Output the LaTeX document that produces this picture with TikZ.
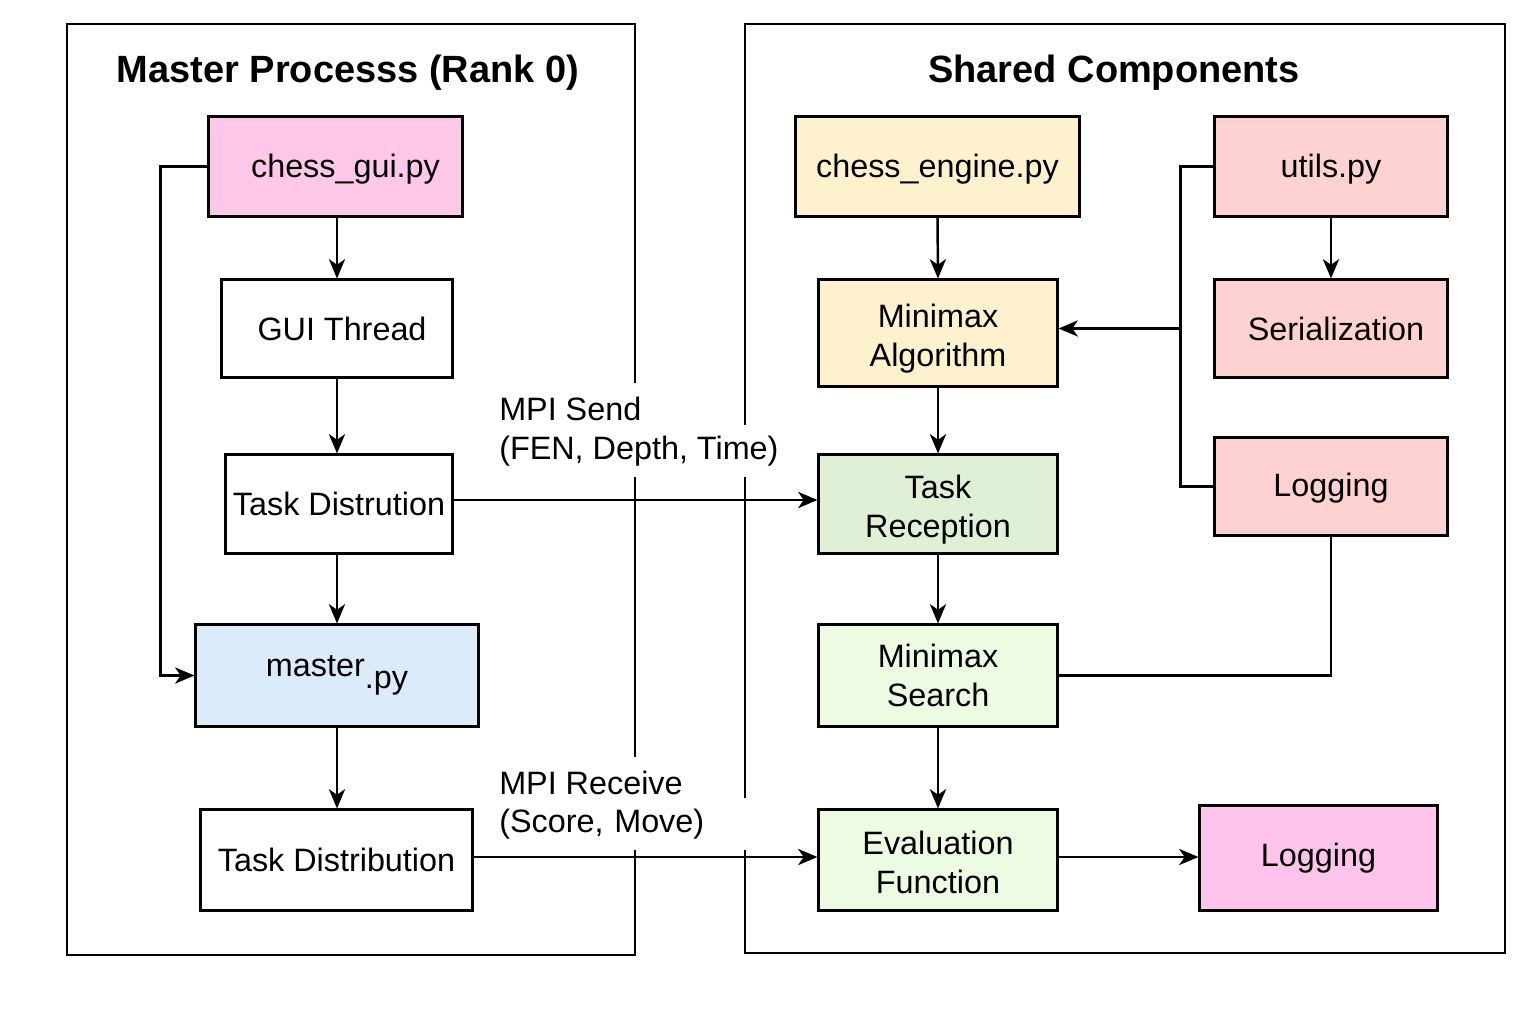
\documentclass[tikz,border=0pt]{standalone}
\usepackage{fontspec}
\setmainfont{Liberation Sans}
\usetikzlibrary{arrows.meta}
\definecolor{guipink}{RGB}{255,200,234}
\definecolor{logpink}{RGB}{255,196,236}
\definecolor{masterblue}{RGB}{220,235,250}
\definecolor{engyellow}{RGB}{253,242,205}
\definecolor{recgreen}{RGB}{224,240,214}
\definecolor{palegreen}{RGB}{237,251,227}
\definecolor{utilred}{RGB}{255,210,210}
\tikzset{
  box/.style={draw=black, line width=0.85pt, align=center, inner sep=2pt,
    font=\fontsize{9.2}{11.1}\selectfont},
  frame/.style={draw=black, line width=0.75pt},
  arr/.style={line width=0.7pt, -{Stealth[length=5.5pt,width=4.6pt,inset=1.6pt]}},
  conn/.style={line width=0.7pt},
  title/.style={font=\fontsize{10.8}{13}\selectfont\bfseries},
  mpi/.style={fill=white, anchor=west, inner xsep=3pt, inner ysep=0pt,
    minimum height=0.52cm, font=\fontsize{9.2}{11}\selectfont}
}
\begin{document}
\begin{tikzpicture}[x=0.01cm, y=-0.01cm]
\useasboundingbox[fill=white] (0,0) rectangle (1536,1024);
% frames
\draw[frame] (67,24) rectangle (635,955);
\draw[frame] (745,24) rectangle (1505,953);
\node[title] (t1) at (348,73) {Master Processs (Rank 0)};
\node[title] (t2) at (1114,73) {Shared Components};
% MPI labels
\node[mpi] (ms1) at (488,409) {MPI Send};
\node[mpi] (ms2) at (488,451) {(FEN, Depth, Time)};
\node[mpi] (mr1) at (488,783) {MPI Receive};
\node[mpi, text width=2.6cm, align=left] (mr2) at (488,824) {(Score, Move)};
% left column
\node[box, fill=guipink, minimum width=2.53cm, minimum height=0.99cm] (gui) at (335.5,166.5) {\hspace*{0.2cm}\rule{0pt}{8pt}chess\_gui.py};
\node[box, fill=white, minimum width=2.30cm, minimum height=0.97cm] (thread) at (337,328.5) {\hspace*{0.1cm}GUI Thread};
\node[box, fill=white, minimum width=2.26cm, minimum height=0.98cm] (distr) at (339,504) {Task Distrution};
\node[box, fill=masterblue, minimum width=2.82cm, minimum height=1.01cm] (master) at (337,675.5) {\raisebox{3.4pt}{master}.py};
\node[box, fill=white, minimum width=2.71cm, minimum height=1.00cm] (dist2) at (336.5,860) {Task Distribution};
% middle column
\node[box, fill=engyellow, minimum width=2.83cm, minimum height=0.99cm] (engine) at (937.5,166.5) {\rule{0pt}{8pt}chess\_engine.py};
\node[box, fill=engyellow, minimum width=2.38cm, minimum height=1.06cm] (minalg) at (938,333) {\rule{0pt}{9.8pt}Minimax\\Algorithm};
\node[box, fill=recgreen, minimum width=2.38cm, minimum height=0.98cm] (recep) at (938,504) {\rule{0pt}{9.8pt}Task\\Reception};
\node[box, fill=palegreen, minimum width=2.38cm, minimum height=1.01cm] (msearch) at (938,675.5) {Minimax\\Search};
\node[box, fill=palegreen, minimum width=2.38cm, minimum height=1.00cm] (evalf) at (938,860) {\rule{0pt}{8.3pt}Evaluation\\Function};
% right column
\node[box, fill=utilred, minimum width=2.32cm, minimum height=0.99cm] (utils) at (1331,166.5) {\rule{0pt}{8pt}utils.py};
\node[box, fill=utilred, minimum width=2.32cm, minimum height=0.97cm] (serial) at (1331,328.5) {\hspace*{0.1cm}Serialization};
\node[box, fill=utilred, minimum width=2.32cm, minimum height=0.97cm] (log1) at (1331,486.5) {\rule{0pt}{7.6pt}Logging};
\node[box, fill=logpink, minimum width=2.37cm, minimum height=1.04cm] (log2) at (1318.5,858) {Logging};
% left connectors
\draw[arr] (gui.south -| thread) -- (thread.north);
\draw[arr] (thread.south) -- (thread.south |- distr.north);
\draw[arr] (thread.south |- distr.south) -- (thread.south |- master.north);
\draw[arr] (master.south) -- (master.south |- dist2.north);
\draw[arr] (gui.west) -- ++(-47,0) |- (master.west);
% MPI arrows
\draw[arr] ([yshift=0.04cm]distr.east) -- ([yshift=0.04cm]distr.east -| recep.west);
\draw[arr] ([yshift=0.03cm]dist2.east) -- ([yshift=0.03cm]dist2.east -| evalf.west);
% middle connectors
\draw[arr] (engine.south) -- (minalg.north);
\draw[arr] (minalg.south) -- (recep.north);
\draw[arr] (recep.south) -- (msearch.north);
\draw[arr] (msearch.south) -- (evalf.north);
\draw[arr] ([yshift=0.03cm]evalf.east) -- ([yshift=0.03cm]evalf.east -| log2.west);
% right connectors
\draw[arr] (utils.south) -- (serial.north);
\draw[conn] (utils.west) -- ++(-33,0) coordinate (ub) |- (log1.west);
\draw[arr] (ub |- serial) -- (minalg.east |- serial);
\draw[conn] (log1.south) |- (msearch.east);
\end{tikzpicture}
\end{document}
